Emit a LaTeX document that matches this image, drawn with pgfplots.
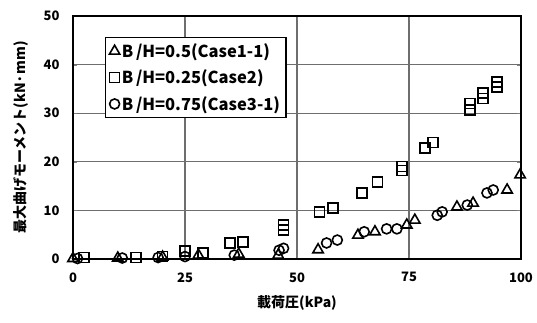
\documentclass[border=0pt]{standalone}
\usepackage{pgfplots}
\pgfplotsset{compat=1.18}
\usepackage{fontspec}
\setmainfont{Noto Sans CJK JP}
\definecolor{gridc}{RGB}{110,110,110}
\begin{document}
\begin{tikzpicture}
\begin{axis}[
  scale only axis,
  width=448pt, height=243pt,
  xmin=0, xmax=100, ymin=0, ymax=50,
  xtick={0,25,50,75,100}, ytick={0,10,20,30,40,50},
  grid=major,
  grid style={draw=gridc, line width=1.2pt},
  axis line style={black, line width=1.2pt},
  /pgf/number format/assume math mode=true,
  tick label style={font=\fontsize{13}{13}\selectfont\bfseries},
  xticklabel style={yshift=-10pt},
  yticklabel style={xshift=-10pt},
  xlabel={載荷圧(kPa)},
  ylabel={最大曲げモーメント(kN·mm)},
  label style={font=\fontsize{14}{14}\selectfont\bfseries},
  xlabel style={yshift=-6pt},
  ylabel style={yshift=8pt},
  legend cell align=left,
  legend style={at={(axis description cs:0.071,0.914)}, anchor=north west,
    draw=black, line width=1.2pt, font=\fontsize{16.5}{16.5}\selectfont\bfseries,
    inner sep=4pt, row sep=7pt},
  every axis plot/.append style={only marks, black, line width=1.6pt, mark size=5pt},
  clip=false,
]
\addplot[mark=triangle, mark size=6pt] coordinates {
 (0,0.1) (10,0.2) (20,0.4) (28,0.8) (37,1.0) (45.8,0.8)
 (54.7,1.9) (63.6,4.9) (67.4,5.6) (74.5,7.0) (76.3,8.0)
 (85.7,10.7) (89.3,11.5) (96.9,14.2) (99.8,17.3)
};
\addlegendentry{B\,/H=0.5(Case1-1)}
\addplot[mark=square] coordinates {
 (2.5,0.3) (14,0.3) (20,0.5) (25,1.6) (29,1.2) (35,3.3) (38,3.5)
 (47,6.0) (47,7.0) (55,9.7) (58,10.5) (64.5,13.6) (68,15.8)
 (73.4,18.2) (73.4,19.0) (78.6,22.8) (80.4,24.0)
 (88.6,30.6) (88.6,32.0) (91.5,33.0) (91.5,34.1) (94.6,35.4) (94.6,36.4)
};
\addlegendentry{B\,/H=0.25(Case2)}
\addplot[mark=o] coordinates {
 (1,0.1) (11,0.2) (19,0.3) (25,0.5) (36,0.8) (46,1.8) (47,2.2)
 (56.6,3.3) (59,3.9) (65,5.6) (70,6.2) (72.3,6.2)
 (81.3,9.0) (82.4,9.7) (88,11.1) (92.4,13.6) (93.8,14.2)
};
\addlegendentry{B\,/H=0.75(Case3-1)}
\end{axis}
\pgfresetboundingbox
\path[use as bounding box] (-73pt,-63pt) rectangle (464pt,259pt);
\end{tikzpicture}
\end{document}
